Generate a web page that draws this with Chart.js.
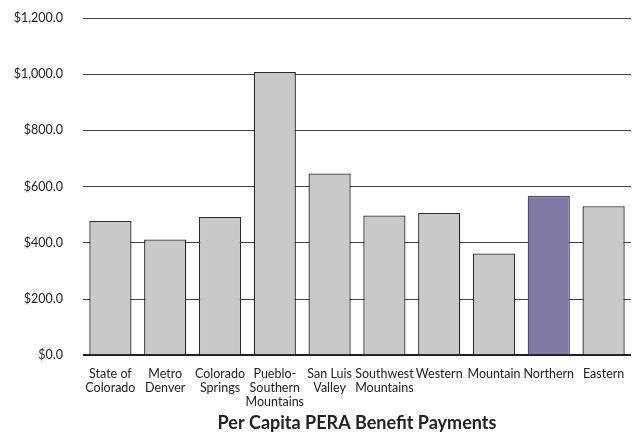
<!DOCTYPE html>
<html>
<head>
<meta charset="utf-8">
<script src="https://cdn.jsdelivr.net/npm/chart.js@4/dist/chart.umd.min.js"></script>
<style>
  html, body { margin: 0; padding: 0; background: #fff; }
  #wrap { position: relative; width: 637px; height: 433px; }
</style>
</head>
<body>
<div id="wrap"><canvas id="perCapitaChart"></canvas></div>
<script>
// regions along the x axis (multi-line labels as in the original)
const regions = [
  ['State of', 'Colorado'],
  ['Metro', 'Denver'],
  ['Colorado', 'Springs'],
  ['Pueblo-', 'Southern', 'Mountains'],
  ['San Luis', 'Valley'],
  ['Southwest', 'Mountains'],
  'Western',
  'Mountain',
  'Northern',
  'Eastern'
];

// per capita PERA benefit payments, dollars
const payments = [478, 412, 492, 1008, 647, 497, 506, 362, 567, 530];

// y axis ticks
const yTicks = [0, 200, 400, 600, 800, 1000, 1200];

const highlight = 'Northern';

const fillColors = regions.map(r => r === highlight ? '#8079a3' : '#c8c9cb');
const edgeColors = regions.map(r => r === highlight ? '#4f4a78' : '#2a2a2a');

const ctx = document.getElementById('perCapitaChart').getContext('2d');
new Chart(ctx, {
  type: 'bar',
  data: {
    labels: regions,
    datasets: [{
      label: 'Per Capita PERA Benefit Payments',
      data: payments,
      backgroundColor: fillColors,
      borderColor: edgeColors,
      borderWidth: 1.3,
      barPercentage: 0.77,
      categoryPercentage: 1.0
    }]
  },
  options: {
    responsive: true,
    maintainAspectRatio: false,
    animation: false,
    layout: { padding: { left: 0, right: 6, top: 18, bottom: 0 } },
    plugins: {
      legend: { display: false },
      tooltip: { enabled: false },
      title: {
        display: true,
        position: 'bottom',
        fullSize: false,
        text: 'Per Capita PERA Benefit Payments',
        color: '#222',
        font: { family: 'Lato', size: 18, weight: 'bold', lineHeight: 1.1 },
        padding: { top: 6, bottom: 0 }
      }
    },
    scales: {
      x: {
        grid: { display: false, drawTicks: false },
        border: { display: false },
        afterFit: axis => { axis.height = 52; },
        ticks: {
          color: '#222',
          font: { family: 'Lato', size: 12.5, lineHeight: 1.12 },
          padding: 12,
          maxRotation: 0,
          autoSkip: false
        }
      },
      y: {
        min: 0,
        max: 1200,
        afterBuildTicks: axis => { axis.ticks = yTicks.map(v => ({ value: v })); },
        // fixed axis box; drop the extra top/bottom padding the tick padding adds
        afterFit: axis => { axis.width = 83; axis.paddingTop = 0; axis.paddingBottom = 0; },
        border: { display: false },
        grid: {
          color: ctx => ctx.tick && ctx.tick.value === 0 ? '#222' : '#444',
          lineWidth: ctx => ctx.tick && ctx.tick.value === 0 ? 2 : 1,
          drawTicks: false
        },
        ticks: {
          color: '#222',
          font: { family: 'Lato', size: 12.5 },
          padding: 20,
          callback: v => '$' + Number(v).toLocaleString('en-US', { minimumFractionDigits: 1, maximumFractionDigits: 1 })
        }
      }
    }
  }
});
</script>
</body>
</html>
